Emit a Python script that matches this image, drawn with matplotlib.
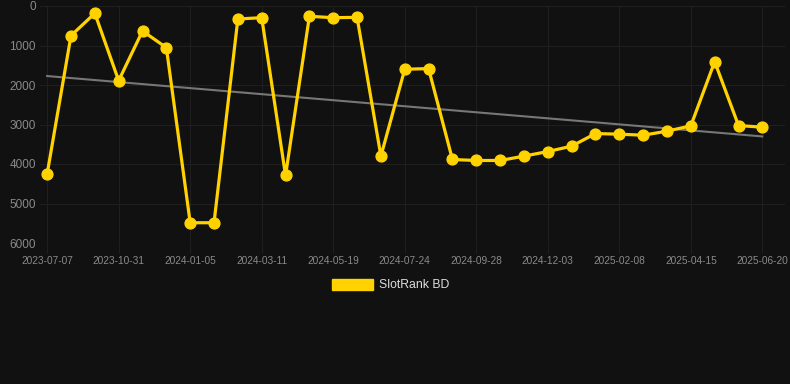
import matplotlib
matplotlib.use("Agg")
import matplotlib.pyplot as plt
from matplotlib.patches import Patch
import numpy as np

series_name = "SlotRank BD"
ranks = [4250, 750, 185, 1890, 632, 1054, 5487, 5487, 329, 296, 4290, 261, 296, 287,
         3800, 1601, 1585, 3886, 3911, 3911, 3801, 3684, 3549, 3229, 3245, 3271, 3169,
         3034, 1408, 3026, 3068]
tick_labels = ["2023-07-07", "2023-10-31", "2024-01-05", "2024-03-11", "2024-05-19",
               "2024-07-24", "2024-09-28", "2024-12-03", "2025-02-08", "2025-04-15",
               "2025-06-20"]
y_ticks = [0, 1000, 2000, 3000, 4000, 5000, 6000]

bg = "#111111"
grid_c = "#1f1f1f"
gold = "#FFD200"

fig = plt.figure(figsize=(7.9, 3.84), dpi=100, facecolor=bg)
ax = fig.add_axes([40/790, 1-243/384, 745/790, 237/384])
ax.set_facecolor(bg)

x = np.arange(len(ranks))
coef = np.polyfit(x, ranks, 1)
ax.plot(x, np.polyval(coef, x), color="#777777", lw=1.5, zorder=2)
ax.plot(x, ranks, color=gold, lw=2.3, marker="o", ms=7.8, zorder=3,
        solid_joinstyle="round")

ax.set_ylim(6000, 0)
ax.set_xlim(-0.3, 30.95)
ax.set_yticks(y_ticks)
ax.set_yticklabels([str(v) for v in y_ticks])
ax.set_xticks(x[::3])
ax.set_xticklabels(tick_labels)
ax.grid(True, color=grid_c, lw=0.8)
for s in ax.spines.values():
    s.set_visible(False)
ax.tick_params(axis="y", length=0, pad=3, labelsize=8.5, labelcolor="#8a8a8a",
               labelfontfamily="Liberation Sans")
ax.tick_params(axis="x", length=7, width=0.8, color=grid_c, pad=2, labelsize=7.3,
               labelcolor="#8a8a8a", labelfontfamily="Liberation Sans")

fig.legend(handles=[Patch(facecolor=gold, edgecolor=gold)], labels=[series_name],
           loc="center", bbox_to_anchor=(0.4945, 1-285/384), frameon=False,
           handlelength=3.3, handleheight=1.0, handletextpad=0.5,
           prop={"family": "Liberation Sans", "size": 8.8}, labelcolor="#dddddd")

fig.savefig("out.png", facecolor=bg)
